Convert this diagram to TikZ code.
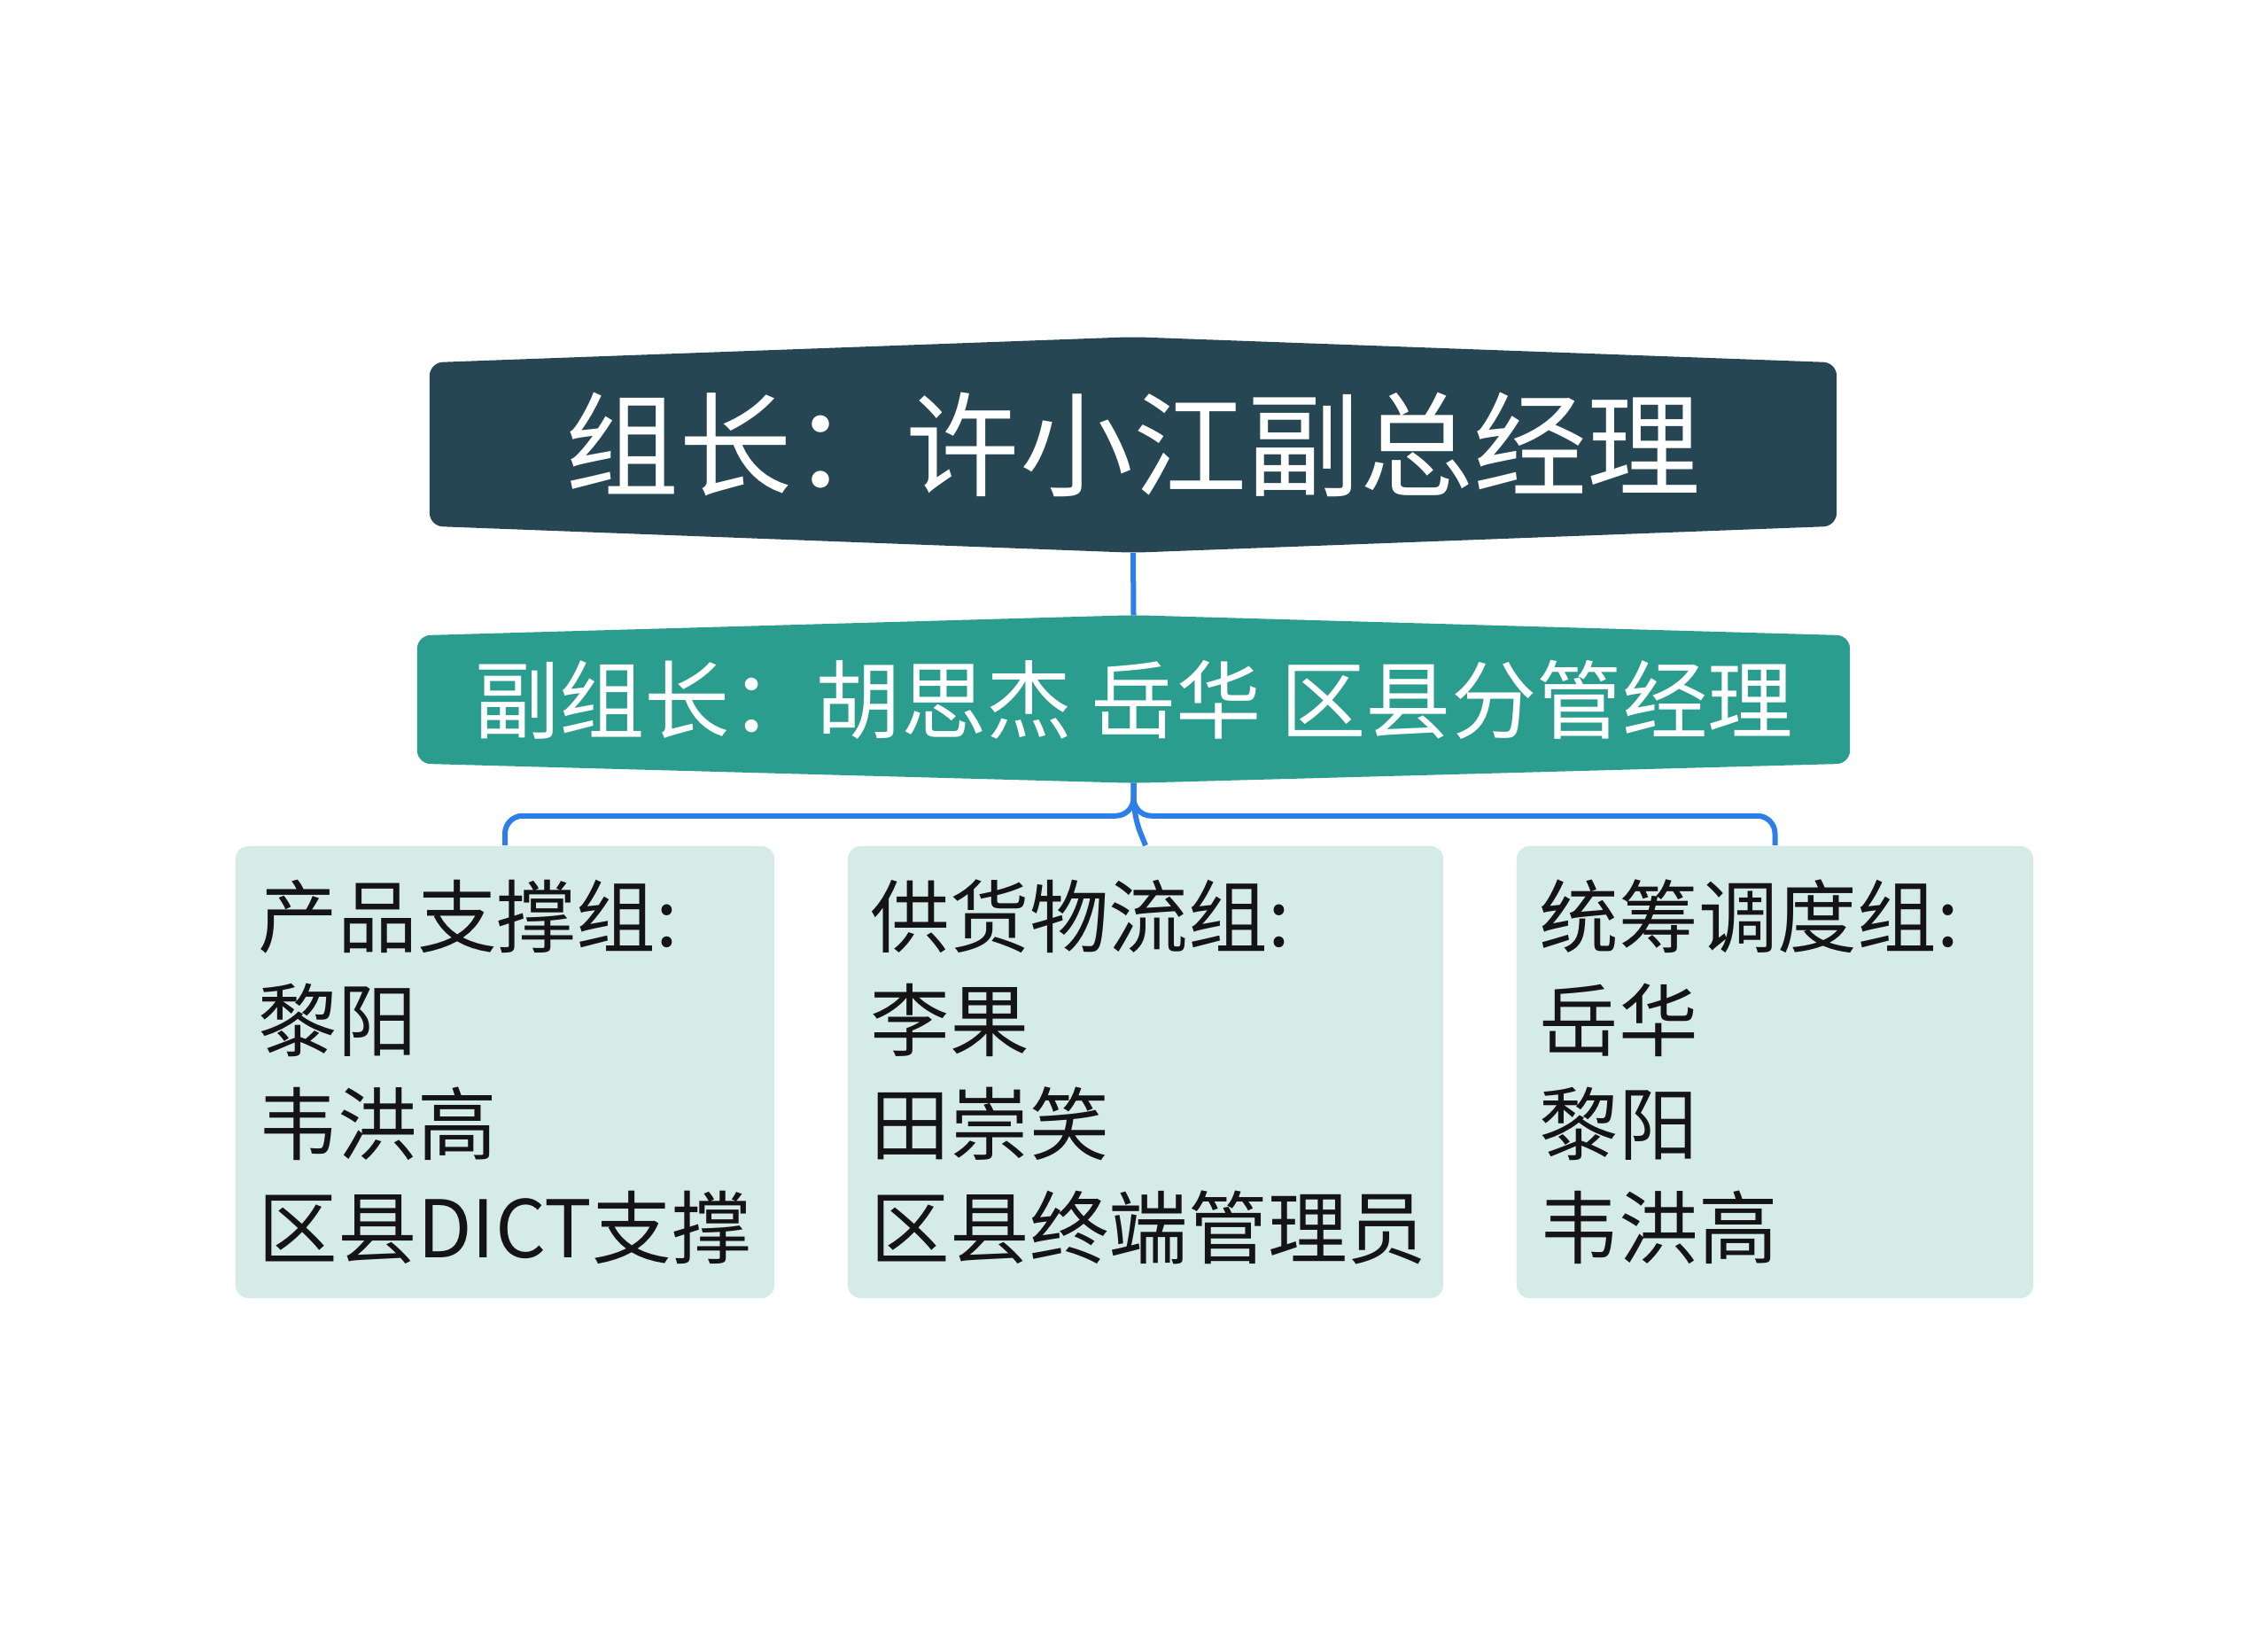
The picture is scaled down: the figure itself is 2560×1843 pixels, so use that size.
\documentclass[tikz,border=0pt]{standalone}
\usepackage{fontspec}
\newfontfamily\cjk{Noto Sans CJK SC}
\usepackage{xcolor}
\usetikzlibrary{backgrounds}

\definecolor{leaderfill}{RGB}{38,70,83}
\definecolor{deputyfill}{RGB}{42,157,143}
\definecolor{groupfill}{RGB}{213,235,232}
\definecolor{linkblue}{RGB}{47,125,232}

\tikzset{
  leaderbox/.style={text=white, inner sep=0pt, minimum width=15.86cm, minimum height=1.83cm,
    font=\cjk\fontsize{36.4}{40}\selectfont},
  deputybox/.style={text=white, inner sep=0pt, minimum width=16.15cm, minimum height=1.43cm,
    font=\cjk\fontsize{27.4}{30}\selectfont},
  groupbox/.style={fill=groupfill, rounded corners=0.15cm, inner xsep=0.26cm, inner ysep=0pt,
    minimum height=5.10cm, align=left, text=black!92, font=\cjk\fontsize{25.5}{33.3}\selectfont},
  link/.style={draw=linkblue, line width=0.06cm, rounded corners=0.2cm}
}

\begin{document}
\begin{tikzpicture}[x=0.01cm, y=-0.01cm]
   \useasboundingbox (0,0) rectangle (2560,1843);
   \node[leaderbox] (leader) at (1279,501.5) {组长：许小江副总经理};
   \node[deputybox] (deputy) at (1279.5,789.5) {副组长：胡思杰 岳华 区县分管经理};
   \coordinate (leader-tip) at ([yshift=-0.30cm]leader.south);
   \coordinate (deputy-peak) at ([yshift=0.23cm]deputy.north);
   \coordinate (deputy-tip) at ([yshift=-0.22cm]deputy.south);
   \begin{pgfonlayer}{background}
     \fill[leaderfill, rounded corners=0.15cm] (leader.north west) -- ([yshift=0.29cm]leader.north)
        -- (leader.north east) -- (leader.south east) -- (leader-tip) -- (leader.south west) -- cycle;
     \fill[deputyfill, rounded corners=0.15cm] (deputy.north west) -- (deputy-peak)
        -- (deputy.north east) -- (deputy.south east) -- (deputy-tip) -- (deputy.south west) -- cycle;
   \end{pgfonlayer}
   \node[groupbox, minimum width=6.08cm, text width=5.56cm] (product) at (570,1210)
      {产品支撑组:\\黎阳\\韦洪高\\区县DICT支撑};
   \node[groupbox, minimum width=6.72cm, text width=6.20cm] (supply) at (1293,1210)
      {供货物流组:\\李果\\田崇笑\\区县终端管理员};
   \node[groupbox, minimum width=5.83cm, text width=5.31cm] (dispatch) at (2003.5,1210)
      {统筹调度组:\\岳华\\黎阳\\韦洪高};
   \draw[link] (leader-tip) -- (deputy-peak);
   \foreach \g in {product,dispatch} \draw[link] (deputy-tip) -- ++(0,37) -| (\g.north);
   \draw[link] (deputy-tip) -- ++(0,37) -- (supply.north);
\end{tikzpicture}
\end{document}
